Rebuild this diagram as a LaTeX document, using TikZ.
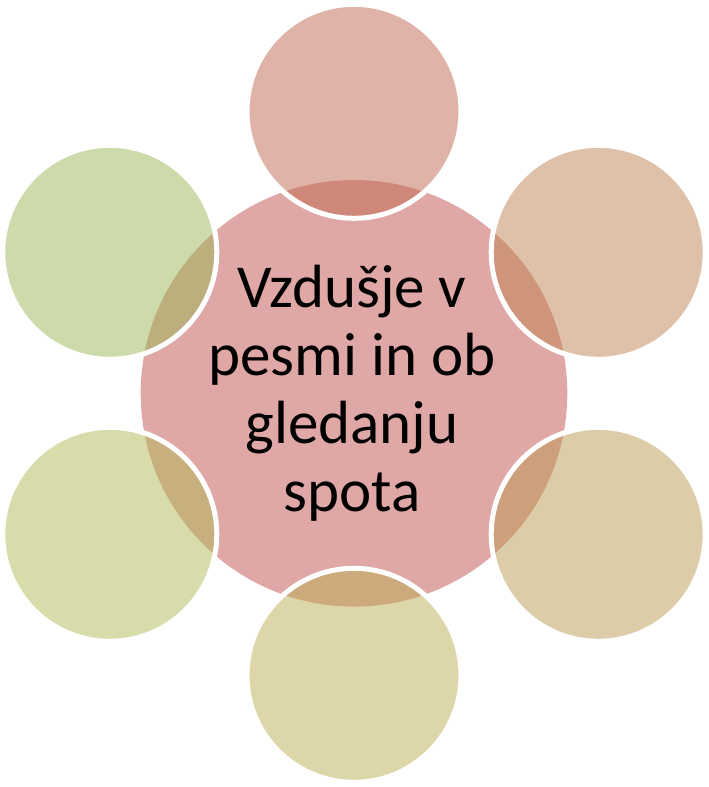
\documentclass[tikz,border=0pt]{standalone}
\usepackage{fontspec}
\setmainfont{Carlito}
\definecolor{cmain}{RGB}{192,80,77}
\definecolor{cA}{RGB}{191,103,79}
\definecolor{cB}{RGB}{189,131,81}
\definecolor{cC}{RGB}{187,153,81}
\definecolor{cD}{RGB}{187,173,83}
\definecolor{cE}{RGB}{175,185,85}
\definecolor{cF}{RGB}{155,183,87}
\tikzset{
  hub/.style={circle, minimum size=426.6pt, inner sep=0pt, fill=cmain, fill opacity=0.5},
  petal/.style={circle, minimum size=214pt, inner sep=0pt, fill=#1, fill opacity=0.5, draw=white, draw opacity=1, line width=5pt},
  txtline/.style={anchor=base, inner sep=0pt, font=\fontsize{61}{68}\selectfont}
}
\begin{document}
\begin{tikzpicture}[x=1pt,y=-1pt]
\useasboundingbox (0,0) rectangle (709,787);
\node[hub] (hub) at (354,393.3) {};
\node[petal=cA] (p1) at (354,111.3) {};
\node[petal=cB] (p2) at (598.2,252.3) {};
\node[petal=cC] (p3) at (598.2,534.3) {};
\node[petal=cD] (p4) at (354,675.3) {};
\node[petal=cE] (p5) at (109.8,534.3) {};
\node[petal=cF] (p6) at (109.8,252.3) {};
\node[txtline] (l1) at (352,307) {Vzdušje v};
\node[txtline] (l2) at (352,375.2) {pesmi in ob};
\node[txtline] (l3) at (352,443.4) {gledanju};
\node[txtline] (l4) at (352,511.6) {spota};
\end{tikzpicture}
\end{document}
